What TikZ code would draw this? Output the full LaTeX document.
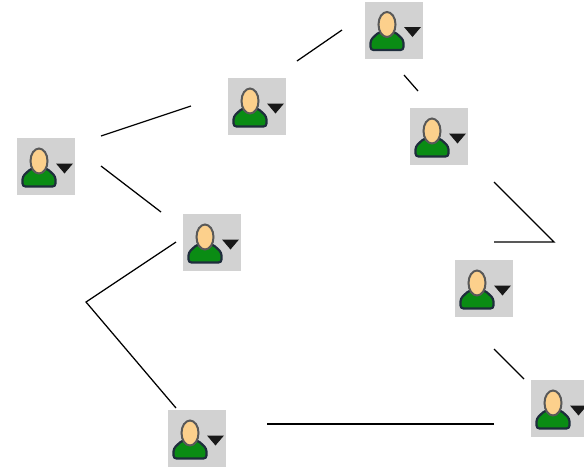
\documentclass[tikz,border=0pt]{standalone}
\usetikzlibrary{positioning}
\definecolor{iconbg}{RGB}{210,210,210}
\definecolor{skin}{RGB}{252,208,140}
\definecolor{shirt}{RGB}{10,140,20}
\definecolor{iconline}{RGB}{30,45,60}
\tikzset{
  user/.style={rectangle, fill=iconbg, minimum width=58pt, minimum height=57pt, inner sep=0pt,
    path picture={
      \begin{scope}[shift={(path picture bounding box.center)}]
        \draw[iconline, fill=shirt, line width=2.2pt, rounded corners=3pt]
          (-23.5,20) -- (-23.5,10) -- (-15,2) -- (1,2) -- (9.5,10) -- (9.5,20) -- cycle;
        \draw[black!65, fill=skin, line width=2pt] (-7,-5.5) ellipse (8.5 and 12.5);
        \fill[black!90] (10,-3) -- (27,-3) -- (18.5,7) -- cycle;
      \end{scope}
    }},
  link/.style={line width=1.25pt}
}
\begin{document}
\begin{tikzpicture}[x=1pt, y=-1pt]
        \useasboundingbox (0,0) rectangle (584,467);
        \node[user] (A) at (46,166.5) {};
        \node[user] (B) at (257,106.5) {};
        \node[user] (C) at (394,30) {};
        \node[user] (D) at (439,136.5) {};
        \node[user] (E) at (212,242.5) {};
        \node[user] (F) at (484,288.5) {};
        \node[user] (G) at (560,408.5) {};
        \node[user] (H) at (197,438.5) {};
        \coordinate (DF) at (554,242);
        \coordinate (EH) at (86,302);

        \draw[link] ([shift={(55,-30.5)}]A.center) -- ([shift={(-66,-0.5)}]B.center);
        \draw[link] ([shift={(40,-45.5)}]B.center) -- ([shift={(-52,0)}]C.center);
        \draw[link] ([shift={(10,45)}]C.center) -- ([shift={(-21,-45.5)}]D.center);
        \draw[link] ([shift={(55,45.5)}]D.center) -- (DF) -- ([shift={(10,-46.5)}]F.center);
        \draw[link] ([shift={(10,60.5)}]F.center) -- ([shift={(-36,-29.5)}]G.center);
        \draw[link] ([shift={(-66,15.5)}]G.center) -- ([shift={(70,-14.5)}]H.center);
        \draw[link] ([shift={(-21,-30.5)}]H.center) -- (EH) -- ([shift={(-36,-0.5)}]E.center);
        \draw[link] ([shift={(55,-0.5)}]A.center) -- ([shift={(-51,-30.5)}]E.center);
\end{tikzpicture}
\end{document}
